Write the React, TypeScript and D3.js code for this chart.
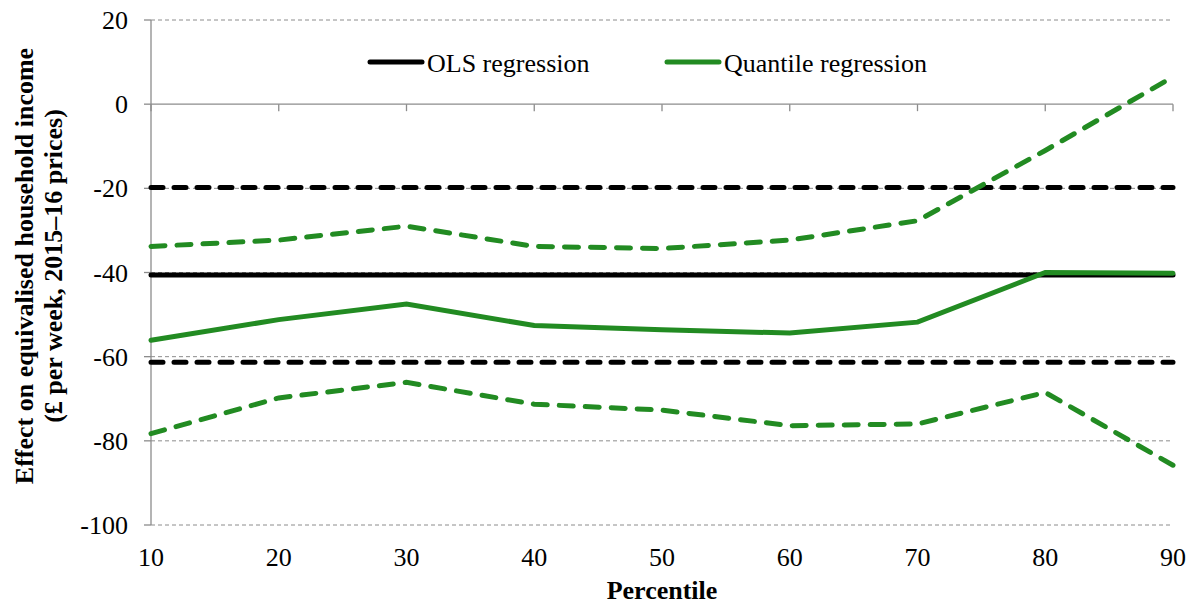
import React from "react";
import { scaleLinear, line } from "d3";

const percentiles = [10, 20, 30, 40, 50, 60, 70, 80, 90];
const quantileMid = [-56.1, -51.2, -47.5, -52.6, -53.6, -54.4, -51.8, -40.0, -40.2];
const quantileUpper = [-33.8, -32.3, -29.0, -33.8, -34.3, -32.3, -27.7, -11.0, 6.5];
const quantileLower = [-78.3, -69.8, -66.1, -71.3, -72.7, -76.4, -76.0, -68.5, -85.8];
const olsMid = -40.6;
const olsUpper = -19.8;
const olsLower = -61.3;
const yTicks = [20, 0, -20, -40, -60, -80, -100];
const legendItems = [
  { label: "OLS regression", color: "#000000" },
  { label: "Quantile regression", color: "#228b22" },
];

const W = 1195;
const H = 605;
const margin = { top: 20, right: 22, bottom: 80, left: 151 };
const font = "Liberation Serif, Times New Roman, serif";
const green = "#228b22";

export default function App() {
  const x = scaleLinear().domain([10, 90]).range([margin.left, W - margin.right]);
  const y = scaleLinear().domain([-100, 20]).range([H - margin.bottom, margin.top]);

  const path = line<number>()
    .x((_, i) => x(percentiles[i]))
    .y((d) => y(d));

  const flat = (v: number) => path(percentiles.map(() => v)) ?? "";

  return (
    <svg
      width={W}
      height={H}
      viewBox={`0 0 ${W} ${H}`}
      style={{ position: "absolute", left: 0, top: 0, background: "#fff", fontFamily: font }}
    >
      {/* gridlines */}
      {yTicks
        .filter((t) => t !== 0)
        .map((t) => (
          <line
            key={t}
            x1={x(10)}
            x2={x(90)}
            y1={y(t)}
            y2={y(t)}
            stroke="#8c8c8c"
            strokeWidth={1}
            strokeDasharray="4 3"
          />
        ))}

      {/* y axis */}
      <line x1={x(10)} x2={x(10)} y1={y(20)} y2={y(-100)} stroke="#8c8c8c" strokeWidth={1.3} />
      {yTicks.map((t) => (
        <g key={t}>
          <line x1={x(10) - 7} x2={x(10)} y1={y(t)} y2={y(t)} stroke="#8c8c8c" strokeWidth={1.3} />
          <text x={x(10) - 23} y={y(t)} dy="0.35em" textAnchor="end" fontSize={26} fill="#000">
            {t}
          </text>
        </g>
      ))}

      {/* x axis at zero */}
      <line x1={x(10)} x2={x(90)} y1={y(0)} y2={y(0)} stroke="#8c8c8c" strokeWidth={1.3} />
      {percentiles.map((p) => (
        <g key={p}>
          <line x1={x(p)} x2={x(p)} y1={y(0)} y2={y(0) + 7} stroke="#8c8c8c" strokeWidth={1.3} />
          <text x={x(p)} y={y(-100) + 41} textAnchor="middle" fontSize={26} fill="#000">
            {p}
          </text>
        </g>
      ))}

      {/* OLS */}
      <path d={flat(olsUpper)} fill="none" stroke="#000" strokeWidth={5} strokeDasharray="12 11" strokeLinecap="round" />
      <path d={flat(olsLower)} fill="none" stroke="#000" strokeWidth={5} strokeDasharray="12 11" strokeLinecap="round" />
      <path d={flat(olsMid)} fill="none" stroke="#000" strokeWidth={5} strokeLinecap="round" />

      {/* quantile */}
      <path d={path(quantileUpper) ?? ""} fill="none" stroke={green} strokeWidth={5} strokeDasharray="14 12" strokeLinecap="round" />
      <path d={path(quantileLower) ?? ""} fill="none" stroke={green} strokeWidth={5} strokeDasharray="14 12" strokeLinecap="round" />
      <path d={path(quantileMid) ?? ""} fill="none" stroke={green} strokeWidth={5} strokeLinecap="round" />

      {/* legend */}
      {legendItems.map((d, i) => {
        const lx = 370 + i * 297;
        return (
          <g key={d.label}>
            <line x1={lx} x2={lx + 52} y1={62} y2={62} stroke={d.color} strokeWidth={5} strokeLinecap="round" />
            <text x={lx + 57} y={72} fontSize={26} fill="#000">
              {d.label}
            </text>
          </g>
        );
      })}

      {/* axis titles */}
      <text x={(x(10) + x(90)) / 2} y={599} textAnchor="middle" fontSize={26} fontWeight="bold" fill="#000">
        Percentile
      </text>
      <g transform="translate(0, 266) rotate(-90)">
        <text x={0} y={33} textAnchor="middle" fontSize={26} fontWeight="bold" fill="#000">
          Effect on equivalised household income
        </text>
        <text x={0} y={62} textAnchor="middle" fontSize={26} fontWeight="bold" fill="#000">
          (£ per week, 2015–16 prices)
        </text>
      </g>
    </svg>
  );
}
